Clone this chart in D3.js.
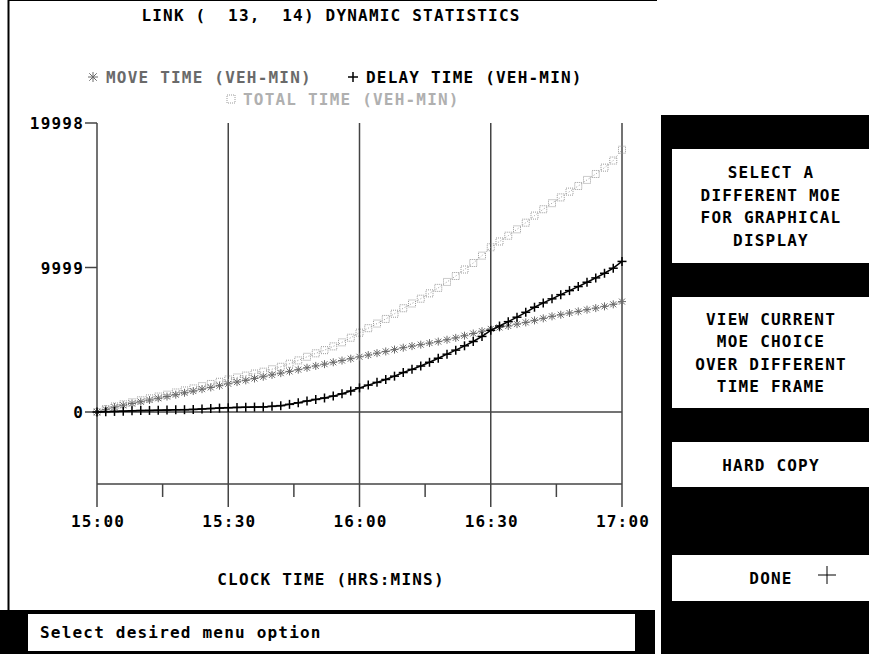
<!DOCTYPE html>
<html>
<head>
<meta charset="utf-8">
<script src="https://cdn.jsdelivr.net/npm/d3@7"></script>
<style>
html,body{margin:0;padding:0;background:#fff;}
svg{display:block;}
text{font-family:"DejaVu Sans Mono","Liberation Mono",monospace;font-weight:bold;font-size:16px;letter-spacing:1.2px;white-space:pre;}
</style>
</head>
<body>
<svg id="chart" width="869" height="654"></svg>
<script>
// ---- data (minutes after 15:00, every 2 minutes) ----
const minutes = d3.range(0, 121, 2);
const timeTicks = [0, 30, 60, 90, 120];
const timeTickLabels = ["15:00", "15:30", "16:00", "16:30", "17:00"];
const minorTicks = [15, 45, 75, 105];
const yTicks = [0, 9999, 19998];
const moveTime = [0,180,340,470,590,710,830,950,1070,1200,1330,1450,1580,1700,1820,1950,
  2070,2190,2320,2440,2570,2690,2810,2930,3060,3190,3310,3440,3560,3690,3820,
  3940,4070,4190,4320,4450,4560,4660,4770,4870,5000,5130,5280,5430,5590,5750,
  5850,5950,6080,6200,6340,6480,6620,6730,6850,6960,7080,7190,7310,7450,7640];
const delayTime = [0,20,40,60,80,100,110,120,130,150,160,180,210,240,270,300,
  320,330,340,350,390,440,530,640,760,870,970,1100,1260,1450,1670,
  1860,2050,2250,2480,2730,2950,3180,3440,3720,4000,4280,4580,4880,5230,5650,
  5950,6250,6560,6900,7250,7550,7830,8120,8400,8680,8980,9280,9600,9950,10420];
const totalTime = [0,200,380,530,670,810,940,1070,1200,1350,1490,1630,1790,1940,2090,2250,
  2390,2520,2660,2790,2960,3130,3340,3570,3820,4060,4280,4540,4820,5140,5490,
  5800,6120,6440,6800,7180,7510,7840,8210,8590,9000,9410,9860,10310,10820,11400,
  11800,12200,12640,13100,13590,14030,14450,14850,15250,15640,16060,16470,16910,17400,18150];

const title = "LINK (  13,  14) DYNAMIC STATISTICS";
const xTitle = "CLOCK TIME (HRS:MINS)";
const menuButtons = [
  ["SELECT A", "DIFFERENT MOE", "FOR GRAPHICAL", "DISPLAY"],
  ["VIEW CURRENT", "MOE CHOICE", "OVER DIFFERENT", "TIME FRAME"],
  ["HARD COPY"],
  ["DONE"]
];
const statusText = "Select desired menu option";

// ---- layout ----
const svg = d3.select("#chart");
const x = d3.scaleLinear().domain([0, 120]).range([97, 622]);
const y = d3.scaleLinear().domain([0, 19998]).range([412, 123]);
const axisY = 484;
const GRID = "#444";
const MOVE_C = "#6a6a6a";
const TOTAL_C = "#9a9a9a";

// frame
svg.append("line").attr("x1", 8.5).attr("x2", 8.5).attr("y1", 0).attr("y2", 610).attr("stroke", "#000").attr("stroke-width", 2);
svg.append("line").attr("x1", 8).attr("x2", 657).attr("y1", 0.5).attr("y2", 0.5).attr("stroke", "#000").attr("stroke-width", 1);

// title & legend
svg.append("text").attr("x", 331).attr("y", 21).attr("text-anchor", "middle").attr("xml:space", "preserve").text(title);

function asterisk(g, cx, cy, r, color, sw) {
  const p = g.append("g").attr("stroke", color).attr("stroke-width", sw).attr("fill", "none");
  p.append("line").attr("x1", cx - r).attr("x2", cx + r).attr("y1", cy).attr("y2", cy);
  p.append("line").attr("x1", cx).attr("x2", cx).attr("y1", cy - r).attr("y2", cy + r);
  p.append("line").attr("x1", cx - r * 0.75).attr("x2", cx + r * 0.75).attr("y1", cy - r * 0.75).attr("y2", cy + r * 0.75);
  p.append("line").attr("x1", cx - r * 0.75).attr("x2", cx + r * 0.75).attr("y1", cy + r * 0.75).attr("y2", cy - r * 0.75);
}
function plus(g, cx, cy, r, color, sw) {
  const p = g.append("g").attr("stroke", color).attr("stroke-width", sw);
  p.append("line").attr("x1", cx - r).attr("x2", cx + r).attr("y1", cy).attr("y2", cy);
  p.append("line").attr("x1", cx).attr("x2", cx).attr("y1", cy - r).attr("y2", cy + r);
}
function square(g, cx, cy, r, color, sw) {
  g.append("rect").attr("x", cx - r).attr("y", cy - r).attr("width", 2 * r).attr("height", 2 * r)
    .attr("fill", "none").attr("stroke", color).attr("stroke-width", sw).attr("stroke-dasharray", "1,1");
}
const leg = svg.append("g");
asterisk(leg, 93, 77, 5, MOVE_C, 1);
leg.append("text").attr("x", 106).attr("y", 83).attr("fill", MOVE_C).attr("font-weight", "normal").text("MOVE TIME (VEH-MIN)");
plus(leg, 353, 77, 5, "#000", 1.5);
leg.append("text").attr("x", 366).attr("y", 83).attr("fill", "#000").text("DELAY TIME (VEH-MIN)");
square(leg, 231, 99, 4, TOTAL_C, 1);
leg.append("text").attr("x", 243).attr("y", 105).attr("fill", "#b0b0b0").attr("font-weight", "normal").text("TOTAL TIME (VEH-MIN)");

// axes / grid
const ax = svg.append("g");
ax.append("line").attr("x1", 97).attr("x2", 97).attr("y1", y(19998)).attr("y2", 507).attr("stroke", GRID).attr("stroke-width", 1.5);
ax.selectAll("line.vg").data(timeTicks.slice(1)).join("line").attr("class", "vg")
  .attr("x1", d => x(d)).attr("x2", d => x(d)).attr("y1", y(19998)).attr("y2", 507)
  .attr("stroke", GRID).attr("stroke-width", 1.5);
ax.selectAll("line.mt").data(minorTicks).join("line").attr("class", "mt")
  .attr("x1", d => x(d)).attr("x2", d => x(d)).attr("y1", axisY).attr("y2", 497)
  .attr("stroke", GRID).attr("stroke-width", 1.5);
ax.append("line").attr("x1", x(0)).attr("x2", x(120)).attr("y1", axisY).attr("y2", axisY).attr("stroke", GRID).attr("stroke-width", 1.5);
ax.append("line").attr("x1", x(0)).attr("x2", x(120)).attr("y1", y(0)).attr("y2", y(0)).attr("stroke", GRID).attr("stroke-width", 1.5);
ax.selectAll("line.yt").data(yTicks).join("line").attr("class", "yt")
  .attr("x1", 85).attr("x2", 97).attr("y1", d => y(d)).attr("y2", d => y(d))
  .attr("stroke", GRID).attr("stroke-width", 1.5);
ax.selectAll("text.yl").data(yTicks).join("text").attr("class", "yl")
  .attr("x", 84).attr("y", d => y(d) + 6).attr("text-anchor", "end").text(d => String(d));
ax.selectAll("text.xl").data(timeTicks).join("text").attr("class", "xl")
  .attr("x", d => x(d) + 1).attr("y", 527).attr("text-anchor", "middle").text((d, i) => timeTickLabels[i]);
ax.append("text").attr("x", 331).attr("y", 585).attr("text-anchor", "middle").text(xTitle);

// series
const plot = svg.append("g");
const lineGen = vals => d3.line().x((d, i) => x(minutes[i])).y(d => y(d))(vals);

plot.append("path").attr("d", lineGen(totalTime)).attr("fill", "none").attr("stroke", TOTAL_C).attr("stroke-width", 1).attr("stroke-dasharray", "1,2");
totalTime.forEach((v, i) => square(plot, x(minutes[i]), y(v), 3.5, TOTAL_C, 1));

plot.append("path").attr("d", lineGen(moveTime)).attr("fill", "none").attr("stroke", MOVE_C).attr("stroke-width", 1).attr("stroke-dasharray", "1,1");
moveTime.forEach((v, i) => asterisk(plot, x(minutes[i]), y(v), 4, MOVE_C, 1));

plot.append("path").attr("d", lineGen(delayTime)).attr("fill", "none").attr("stroke", "#000").attr("stroke-width", 1.5);
delayTime.forEach((v, i) => plus(plot, x(minutes[i]), y(v), 4.5, "#000", 1.5));

// status bar
svg.append("rect").attr("x", 0).attr("y", 610).attr("width", 655).attr("height", 44).attr("fill", "#000");
svg.append("rect").attr("x", 28).attr("y", 614).attr("width", 607).attr("height", 37).attr("fill", "#fff");
svg.append("text").attr("x", 40).attr("y", 638).attr("font-weight", "normal").text(statusText);

// right menu panel
svg.append("rect").attr("x", 661).attr("y", 115).attr("width", 208).attr("height", 539).attr("fill", "#000");
const boxes = [
  {y0: 149, y1: 263, lines: menuButtons[0]},
  {y0: 297, y1: 408, lines: menuButtons[1]},
  {y0: 442, y1: 487, lines: menuButtons[2]},
  {y0: 555, y1: 601, lines: menuButtons[3]}
];
boxes.forEach(b => {
  svg.append("rect").attr("x", 672).attr("y", b.y0).attr("width", 197).attr("height", b.y1 - b.y0).attr("fill", "#fff");
  const n = b.lines.length, lh = 22.5;
  const cy = (b.y0 + b.y1) / 2;
  b.lines.forEach((t, i) => {
    svg.append("text").attr("x", 771).attr("y", cy - (n - 1) * lh / 2 + i * lh + 6)
      .attr("text-anchor", "middle").text(t);
  });
});
plus(svg, 827, 575, 9, "#000", 1);
</script>
</body>
</html>
